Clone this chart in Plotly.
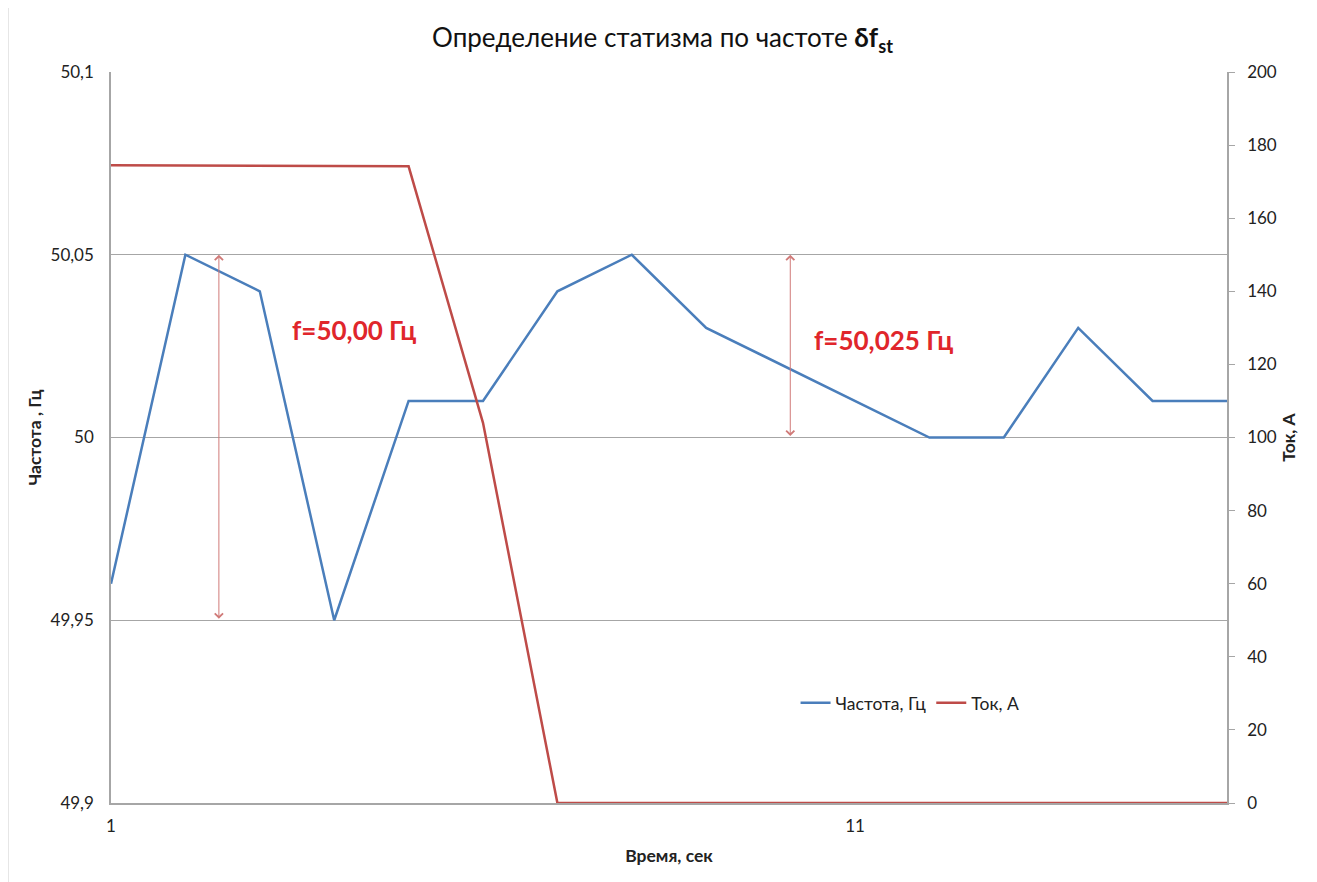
import plotly.graph_objects as go

time_s = list(range(1, 17))
freq_hz = [49.96, 50.05, 50.04, 49.95, 50.01, 50.01, 50.04, 50.05, 50.03, 50.02, 50.01, 50.00, 50.00, 50.03, 50.01, 50.01]
current_a = [174.5, 174.4, 174.3, 174.2, 174.2, 104, 0, 0, 0, 0, 0, 0, 0, 0, 0, 0]
x_ticks = [1, 11]
freq_ticks = [49.9, 49.95, 50.0, 50.05, 50.1]
freq_tick_text = ["49,9", "49,95", "50", "50,05", "50,1"]
current_ticks = list(range(0, 201, 20))

arrow_x = [2.45, 10.13]
arrow_low = [49.95, 50.0]
arrow_high = [50.05, 50.05]
labels = ["f=50,00 Гц", "f=50,025 Гц"]
label_x = [3.40, 10.42]
label_y = [50.0294, 50.0267]

FONT = "Lato, 'Open Sans', sans-serif"
BLUE = "#4a7ebb"
RED = "#be4b48"

fig = go.Figure()
fig.add_trace(go.Scatter(x=time_s, y=freq_hz, name="Частота, Гц", mode="lines",
                         line=dict(color=BLUE, width=2.5)))
fig.add_trace(go.Scatter(x=time_s, y=current_a, name="Ток, А", mode="lines",
                         line=dict(color=RED, width=2.5), yaxis="y2"))

annotations = []
for xa, lo, hi in zip(arrow_x, arrow_low, arrow_high):
    annotations.append(dict(x=xa, y=hi, ax=xa, ay=lo, xref="x", yref="y", axref="x", ayref="y",
                            showarrow=True, arrowhead=4, arrowside="end+start", arrowsize=1.6,
                            arrowwidth=1, arrowcolor="#d07a78", text=""))
for t, lx, ly in zip(labels, label_x, label_y):
    annotations.append(dict(x=lx, y=ly, xref="x", yref="y", text="<b>" + t + "</b>",
                            showarrow=False, xanchor="left",
                            font=dict(family=FONT, size=26, color="#e0262b")))

fig.update_layout(
    width=1309, height=874,
    margin=dict(l=103, r=90, t=64, b=79),
    paper_bgcolor="white", plot_bgcolor="white",
    font=dict(family=FONT, size=17, color="#222"),
    title=dict(text="Определение статизма по частоте <b>δf<sub>st</sub></b>",
               x=0.5, xanchor="center", y=0.9657, yanchor="middle",
               font=dict(family=FONT, size=26, color="#111")),
    xaxis=dict(range=[1, 16], tickvals=x_ticks, ticktext=[str(v) for v in x_ticks],
               showgrid=False, zeroline=False, showline=True, linecolor="#a6a6a6", linewidth=1.5,
               ticks="", ticklabelstandoff=7,
               title=dict(text="<b>Время, сек</b>", font=dict(size=17.5), standoff=15)),
    yaxis=dict(range=[49.9, 50.1], tickvals=freq_ticks, ticktext=freq_tick_text,
               showgrid=True, gridcolor="#a6a6a6", gridwidth=1, zeroline=False,
               showline=True, linecolor="#a6a6a6", linewidth=1.5, ticks="",
               ticklabelstandoff=12,
               title=dict(text="<b>Частота , Гц</b>", font=dict(size=17.5), standoff=4)),
    yaxis2=dict(range=[0, 200], tickvals=current_ticks, overlaying="y", side="right",
                showgrid=False, zeroline=False, showline=True, linecolor="#a6a6a6", linewidth=1.5,
                ticks="outside", ticklen=6, tickcolor="#a6a6a6", ticklabelstandoff=9,
                title=dict(text="<b>Ток, А</b>", font=dict(size=17.5), standoff=7)),
    legend=dict(orientation="h", x=0.716, y=0.137, xanchor="center", yanchor="middle",
                bgcolor="rgba(0,0,0,0)", font=dict(size=17.5), itemwidth=30,
                tracegroupgap=0),
    annotations=annotations,
    showlegend=True,
)
for px in [-0.0923, 1.0797]:
    fig.add_shape(type="line", xref="paper", yref="paper", x0=px, x1=px, y0=-0.2, y1=1.2,
                  line=dict(color="#cccccc", width=1))

fig.write_html("out.html")
